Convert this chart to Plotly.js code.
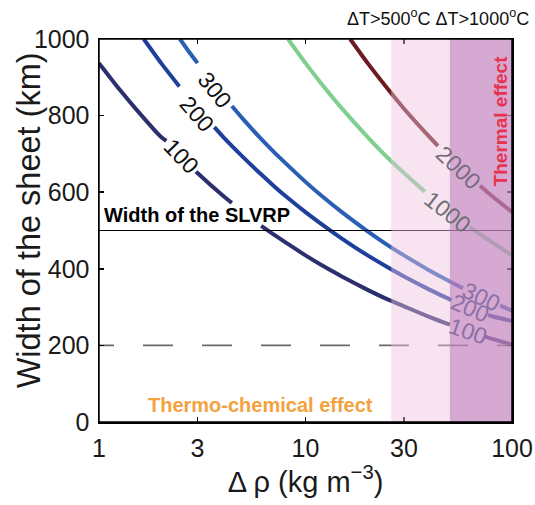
<!DOCTYPE html>
<html><head><meta charset="utf-8">
<script src="https://cdn.plot.ly/plotly-3.0.1.min.js"></script>
<style>body{margin:0;background:#fff}#chart{width:535px;height:505px}</style>
</head><body><div id="chart"></div>
<script>
// ---- data (null = break in the contour for its label) ----
const drho100  = [1, 1.25, 1.5, 2, 2.12, null, 2.95, 3, 4, 4.4, null, 6.1, 7, 8, 10, 12, 15, 20, 25, 30, 40, 50, null, 74, 80, 100];
const width100 = [937, 870, 819, 744, 734, null, 654, 650, 590, 572, null, 512, 490, 469, 435, 409, 380, 345, 320, 302, 274, 254, null, 223, 217, 202];
const drho200  = [1.647, 2, 2.45, null, 3.62, 4, 5, 6, 7, 8, 10, 12, 15, 20, 25, 30, 40, 51, null, 76.5, 80, 100];
const width200 = [1000, 937, 876, null, 770, 744, 691, 650, 617, 590, 548, 516, 479, 435, 404, 380, 345, 318, null, 280, 276, 264];
const drho300  = [2.466, 2.75, 3.0, null, 4.4, 5, 6, 7, 8, 10, 12, 15, 20, 25, 30, 40, 50, 57.9, null, 87.5, 100];
const width300 = [1000, 964, 937, null, 825, 790, 743, 706, 676, 627, 590, 548, 498, 462, 435, 395, 367, 349, null, 304, 291];
const drho1000  = [8.23, 10, 12, 15, 20, 25, 30, 37.9, null, 62.6, 80, 100];
const width1000 = [1000, 937, 882, 819, 744, 690, 650, 601, null, 508, 469, 435];
const drho2000  = [16.45, 20, 25, 30, 37.9, 43.8, null, 70, 80, 100];
const width2000 = [1000, 937, 870, 818, 757, 721, null, 617, 590, 548];

const contourLevels = ['100', '200', '300', '1000', '2000'];
const slvrpWidth = 500;      // km, solid reference line
const dashedWidth = 200;     // km, dashed reference line
const bandLight = [26, 50];  // ΔT>500°C
const bandDark  = [50, 100]; // ΔT>1000°C

const xTickVals = [1, 3, 10, 30, 100];
const xTickText = ['1', '3', '10', '30', '100'];
const yTickVals = [0, 200, 400, 600, 800, 1000];

// ---- styles ----
const FONT = 'Liberation Sans, Arial, Helvetica, sans-serif';
const curveColors = ['#2b2f6e', '#1f3f9c', '#2a5fb4', '#7fcf8e', '#6e1a22'];
const curveX = [drho100, drho200, drho300, drho1000, drho2000];
const curveY = [width100, width200, width300, width1000, width2000];

const traces = curveX.map((xs, i) => ({
  type: 'scatter', mode: 'lines', x: xs, y: curveY[i], name: contourLevels[i],
  line: {color: curveColors[i], width: 4, shape: 'spline', smoothing: 0.5},
  connectgaps: false, hoverinfo: 'skip'
}));
traces.push({type: 'scatter', mode: 'lines', x: [1, 100], y: [slvrpWidth, slvrpWidth],
  line: {color: '#000', width: 1}, hoverinfo: 'skip'});
traces.push({type: 'scatter', mode: 'lines', x: [0.846, 100], y: [dashedWidth, dashedWidth],
  line: {color: '#6a6a6a', width: 1.8, dash: '30px,29px'}, hoverinfo: 'skip'});

// contour label placement (log10 x for annotations on a log axis)
const labelPos = [
  {t: '100',  x: 0.397, y: 694, a: 46, c: '#111'},
  {t: '200',  x: 0.4746, y: 805, a: 49, c: '#111'},
  {t: '300',  x: 0.5617, y: 868, a: 51, c: '#111'},
  {t: '1000', x: 1.6877, y: 548, a: 38, c: '#6f6f72'},
  {t: '2000', x: 1.743, y: 664, a: 43, c: '#7a6a7e'},
  {t: '300',  x: 1.852, y: 326, a: 25, c: '#8a70a6'},
  {t: '200',  x: 1.7966, y: 298, a: 23, c: '#8a70a6'},
  {t: '100',  x: 1.7845, y: 238, a: 19, c: '#8a70a6'}
];
const annotations = labelPos.map(p => ({
  xref: 'x', yref: 'y', x: p.x, y: p.y, text: p.t, textangle: p.a, showarrow: false,
  font: {family: FONT, size: 23, color: p.c}, xanchor: 'center', yanchor: 'middle'
}));
annotations.push(
  {xref: 'paper', yref: 'y', x: 0.007, y: 540, xanchor: 'left', yanchor: 'middle', showarrow: false,
   text: '<b>Width of the SLVRP</b>', font: {family: FONT, size: 20, color: '#000'}},
  {xref: 'paper', yref: 'paper', x: 0.392, y: 0.045, xanchor: 'center', yanchor: 'middle', showarrow: false,
   text: '<b>Thermo-chemical effect</b>', font: {family: FONT, size: 20, color: '#f3a23e'}},
  {xref: 'x', yref: 'y', x: 1.942, y: 785, textangle: -90, xanchor: 'center', yanchor: 'middle', showarrow: false,
   text: '<b>Thermal effect</b>', font: {family: FONT, size: 19, color: '#e6344e'}},
  {xref: 'paper', yref: 'paper', x: 1.047, y: 1.055, xanchor: 'right', yanchor: 'middle', showarrow: false,
   text: 'ΔT>500<sup>o</sup>C ΔT>1000<sup>o</sup>C', font: {family: FONT, size: 18, color: '#111'}},
  {xref: 'paper', yref: 'paper', x: -0.169, y: 0.527, xanchor: 'center', yanchor: 'middle', showarrow: false,
   textangle: -90, text: 'Width of the sheet (km)', font: {family: FONT, size: 32.5, color: '#1a1a1a'}}
);

const shapes = [
  {type: 'rect', xref: 'x', yref: 'paper', x0: bandLight[0], x1: bandLight[1], y0: 0, y1: 1,
   fillcolor: 'rgb(237,195,222)', opacity: 0.45, line: {width: 0}, layer: 'above'},
  {type: 'rect', xref: 'x', yref: 'paper', x0: bandDark[0], x1: bandDark[1], y0: 0, y1: 1,
   fillcolor: 'rgb(198,136,192)', opacity: 0.72, line: {width: 0}, layer: 'above'},
  {type: 'rect', xref: 'paper', yref: 'paper', x0: 0, x1: 1, y0: 0, y1: 1,
   line: {color: '#000', width: 1.5}, fillcolor: 'rgba(0,0,0,0)', layer: 'above'}
];

const axisCommon = {
  ticks: 'inside', ticklen: 5, tickwidth: 1.5, tickcolor: '#000',
  showline: true, mirror: 'ticks', linecolor: '#000', linewidth: 1.5,
  showgrid: false, zeroline: false, tickfont: {family: FONT, size: 25, color: '#1a1a1a'}
};

const layout = {
  width: 535, height: 505,
  margin: {l: 99, r: 23, t: 39, b: 83},
  paper_bgcolor: '#fff', plot_bgcolor: '#fff', showlegend: false,
  font: {family: FONT, color: '#1a1a1a'},
  xaxis: Object.assign({}, axisCommon, {
    type: 'log', range: [0, 2], tickvals: xTickVals, ticktext: xTickText, ticklabelstandoff: 3,
    title: {text: 'Δ ρ (kg m<sup>−3</sup>)', font: {family: FONT, size: 29, color: '#1a1a1a'}, standoff: 10}
  }),
  yaxis: Object.assign({}, axisCommon, {
    range: [0, 1000], tickvals: yTickVals, ticklabelstandoff: 3,
    title: {text: ''}
  }),
  annotations: annotations,
  shapes: shapes
};

Plotly.newPlot('chart', traces, layout, {staticPlot: true, displayModeBar: false});
</script>
</body></html>
